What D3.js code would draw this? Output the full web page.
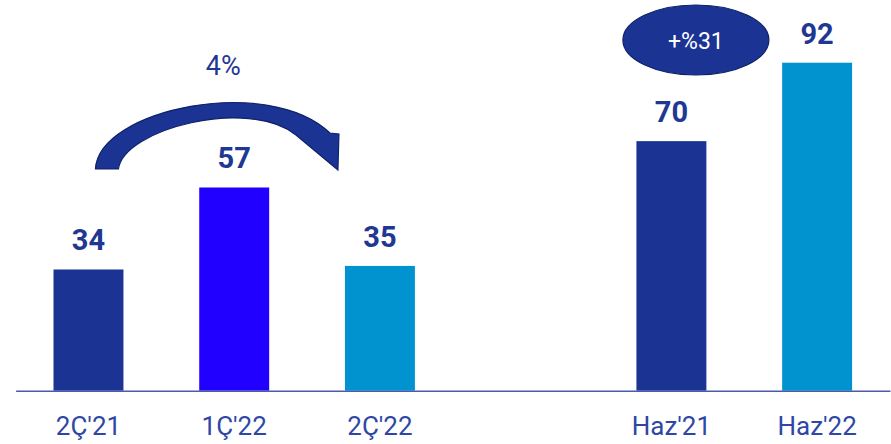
<!DOCTYPE html>
<html>
<head>
<meta charset="utf-8">
<script src="https://cdn.jsdelivr.net/npm/d3@7"></script>
<style>
  body { margin: 0; background: #fff; }
  text { font-family: Roboto, "Noto Sans", sans-serif; }
</style>
</head>
<body>
<script>
// data
const categories = ["2Ç'21", "1Ç'22", "2Ç'22", "", "Haz'21", "Haz'22"];
const values = [34, 57, 35, null, 70, 92];
const barColors = ["#1b3393", "#2200ff", "#0093d0", null, "#1b3393", "#0093d0"];
const quarterChange = "4%";
const yearChange = "+%31";

const w = 891;
const h = 444;
const baseY = 390.7;

const svg = d3.select("body")
    .append("svg")
    .attr("width", w)
    .attr("height", h);

// scales: a blank slot separates the two groups
const xScale = d3.scaleBand()
    .domain(d3.range(categories.length))
    .range([15.6, 890])
    .paddingInner(0.52)
    .paddingOuter(0.26);

const yScale = d3.scaleLinear()
    .domain([0, 100])
    .range([baseY, baseY - 356.5]);

const bars = categories.map((c, i) => ({ cat: c, value: values[i], color: barColors[i], i }))
    .filter(d => d.value != null);

// bars
svg.selectAll("rect.bar")
    .data(bars)
    .enter()
    .append("rect")
    .attr("class", "bar")
    .attr("x", d => xScale(d.i))
    .attr("y", d => yScale(d.value))
    .attr("width", xScale.bandwidth())
    .attr("height", d => yScale(0) - yScale(d.value))
    .attr("fill", d => d.color);

// value labels
svg.selectAll("text.val")
    .data(bars)
    .enter()
    .append("text")
    .attr("class", "val")
    .attr("x", d => xScale(d.i) + xScale.bandwidth() / 2)
    .attr("y", d => yScale(d.value) - 19)
    .attr("text-anchor", "middle")
    .attr("font-size", 29)
    .attr("font-weight", "bold")
    .attr("fill", "#1f3893")
    .text(d => d.value);

// x axis
const xAxis = d3.axisBottom(xScale)
    .tickSize(0)
    .tickPadding(0)
    .tickFormat(i => categories[i]);

const gx = svg.append("g")
    .attr("transform", `translate(0,${baseY})`)
    .call(xAxis);

gx.select(".domain")
    .attr("stroke", "#4a5bab")
    .attr("stroke-width", 1.5);

gx.selectAll(".tick text")
    .attr("y", 44)
    .attr("dy", 0)
    .attr("font-size", 26)
    .attr("font-family", "Roboto, sans-serif")
    .attr("fill", "#2e47a5");

// curved arrow between first and third bar
const c0 = xScale(0) + xScale.bandwidth() / 2;
const c2 = xScale(2) + xScale.bandwidth() / 2;
const yBase = yScale(values[1]) - 18.5;
const arrowPath = [
    `M${c0 + 7},${yBase}`,
    `C${c0 + 10},${yBase - 60} ${c0 + 180},${yBase - 95} ${c2 - 50},${yBase - 36}`,
    `L${c2 - 41},${yBase - 35}`,
    `L${c2 - 42},${yBase + 1}`,
    `L${c2 - 84},${yBase - 34}`,
    `C${c0 + 160},${yBase - 72} ${c0 + 35},${yBase - 40} ${c0 + 30},${yBase}`,
    "Z"
].join(" ");

svg.append("path")
    .attr("d", arrowPath)
    .attr("fill", "#1b3393")
    .attr("stroke", "#0f2168")
    .attr("stroke-width", 1.2);

svg.append("text")
    .attr("x", (c0 + c2) / 2 - 11)
    .attr("y", 75)
    .attr("text-anchor", "middle")
    .attr("font-size", 27)
    .attr("fill", "#1f3893")
    .text(quarterChange);

// yearly change bubble
const ex = xScale(4) + xScale.bandwidth() / 2 + 24.5;
svg.append("ellipse")
    .attr("cx", ex)
    .attr("cy", 40)
    .attr("rx", 73)
    .attr("ry", 35)
    .attr("fill", "#1b3393")
    .attr("stroke", "#0f2168")
    .attr("stroke-width", 1.2);

svg.append("text")
    .attr("x", ex)
    .attr("y", 49)
    .attr("text-anchor", "middle")
    .attr("font-size", 23)
    .attr("fill", "#ffffff")
    .text(yearChange);
</script>
</body>
</html>
